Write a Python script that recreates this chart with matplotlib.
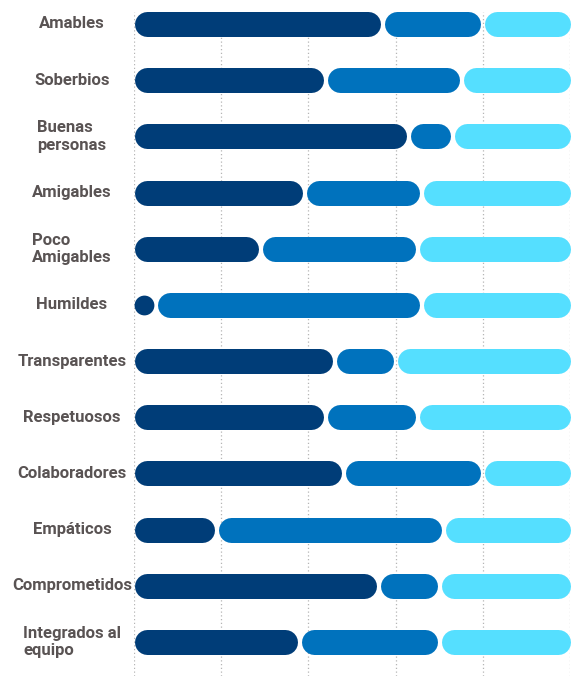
import matplotlib
matplotlib.use("Agg")  # headless
import matplotlib.pyplot as plt
from matplotlib.transforms import blended_transform_factory

# survey share per trait (%), three answer groups
labels = ["Amables", "Soberbios", "Buenas\npersonas", "Amigables", "Poco\nAmigables",
          "Humildes", "Transparentes", "Respetuosos", "Colaboradores", "Empáticos",
          "Comprometidos", "Integrados al\nequipo"]
part_a = [57, 44, 63, 39, 29, 5, 46, 44, 48, 19, 56, 38]
part_b = [23, 31, 10, 27, 36, 61, 14, 21, 32, 52, 14, 32]
part_c = [20, 25, 27, 34, 35, 34, 40, 35, 20, 29, 30, 30]
ticks = [0, 20, 40, 60, 80, 100]

COLORS = ["#003d78", "#0072bd", "#55dfff"]
LABEL_COLOR = "#595353"
FONT = ["Liberation Sans Narrow", "Roboto", "DejaVu Sans"]

W, H, DPI = 572, 676, 100
fig = plt.figure(figsize=(W / DPI, H / DPI), dpi=DPI)
ax_l, ax_r, ax_top = 134, 570, 12
ax = fig.add_axes([ax_l / W, 0, (ax_r - ax_l) / W, 1 - ax_top / H])

row_px = 56.2
n = len(labels)
ax.set_xlim(0, 100)
ax.set_ylim(n - 1 + 34 / row_px, -12 / row_px)

bar_px = 25
lw = bar_px * 72 / DPI
px_per_unit = (ax_r - ax_l) / 100
r = bar_px / 2 / px_per_unit      # cap radius in data units
hg = 2.0 / px_per_unit            # half gap between segments

for i in range(n):
    vals = [part_a[i], part_b[i], part_c[i]]
    left = 0
    for j, v in enumerate(vals):
        right = left + v
        x0 = left + r + (hg if j > 0 else 0)
        x1 = right - r - (hg if j < 2 else 0)
        if x1 <= x0:
            # too short for a capsule: draw a dot the width of the segment
            seg_px = (v - (hg if j > 0 else 0) - (hg if j < 2 else 0)) * px_per_unit
            d_px = min(bar_px, max(seg_px, 8))
            cx = left + (hg if j > 0 else 0) + d_px / 2 / px_per_unit
            ax.plot([cx], [i], "o", color=COLORS[j], ms=d_px * 72 / DPI,
                    mew=0, clip_on=False, zorder=3)
        else:
            ax.plot([x0, x1], [i, i], color=COLORS[j], lw=lw,
                    solid_capstyle="round", clip_on=False, zorder=3)
        left = right

ax.set_xticks(ticks)
ax.grid(axis="x", color="#b5b5b5", linestyle=(0, (1, 2)), lw=0.9, zorder=0)
ax.tick_params(length=0, labelbottom=False, labelleft=False)
ax.set_yticks([])
for s in ax.spines.values():
    s.set_visible(False)

tr = blended_transform_factory(ax.transAxes, ax.transData)
lab_x = (72 - ax_l) / (ax_r - ax_l)
for i, lab in enumerate(labels):
    ax.text(lab_x, i, lab, transform=tr, ha="center", va="center",
            multialignment="left", fontsize=12, fontweight="bold",
            color=LABEL_COLOR, family=FONT, linespacing=1.2)

fig.savefig("out.png", dpi=DPI, facecolor="white")
plt.close(fig)
